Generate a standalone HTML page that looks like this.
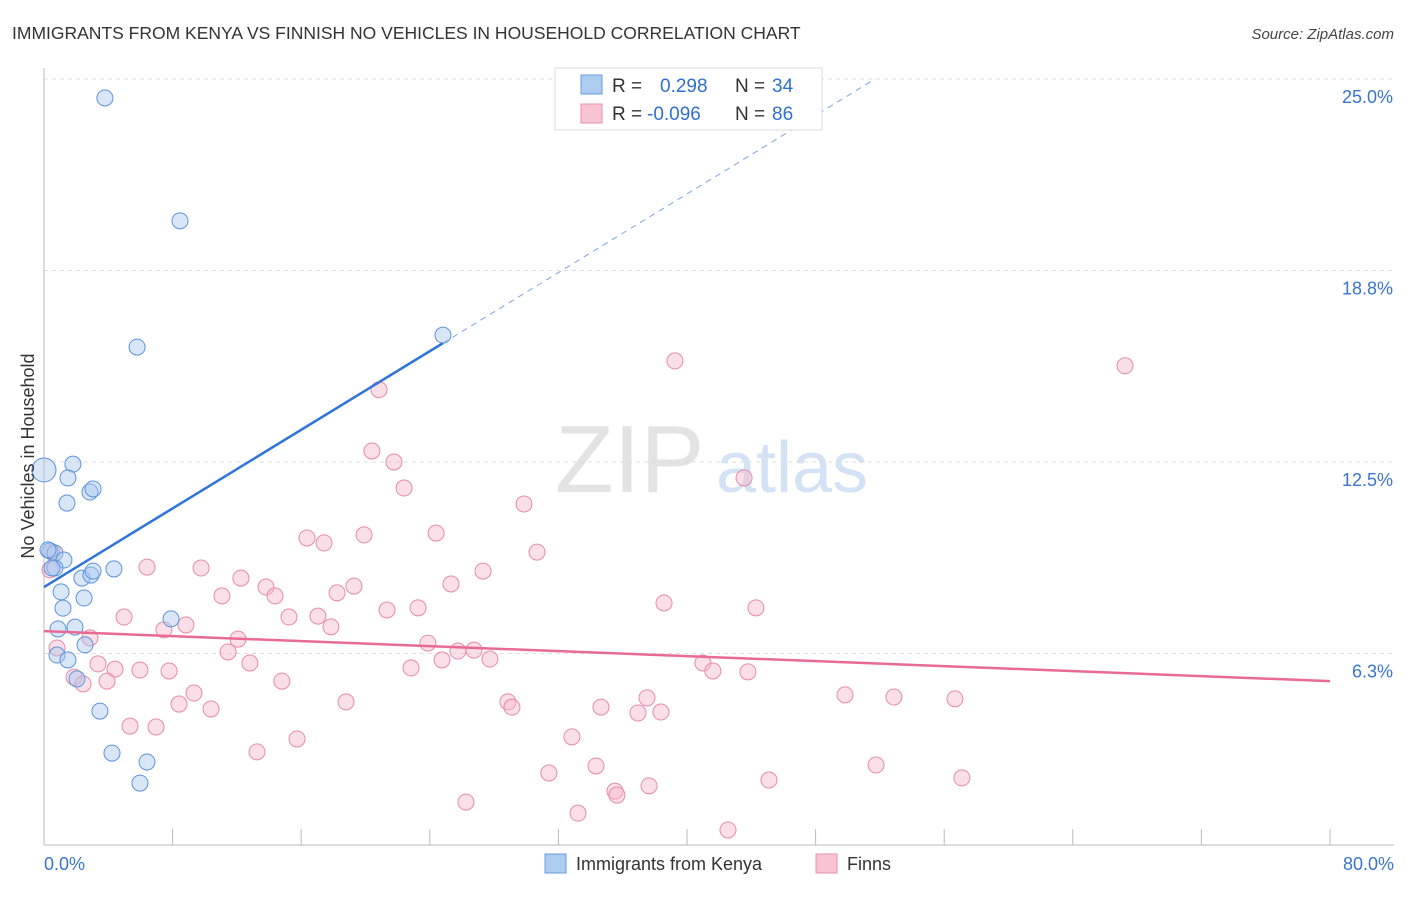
<!DOCTYPE html>
<html><head><meta charset="utf-8"><style>
body{margin:0;background:#fff;font-family:"Liberation Sans",sans-serif;}
svg text{font-family:"Liberation Sans",sans-serif;}
</style></head><body>
<svg id="chart" width="1406" height="892" xmlns="http://www.w3.org/2000/svg">
<text x="12" y="39" font-size="17.5" fill="#333">IMMIGRANTS FROM KENYA VS FINNISH NO VEHICLES IN HOUSEHOLD CORRELATION CHART</text>
<text x="1394" y="39" font-size="15" fill="#444" text-anchor="end" font-style="italic">Source: ZipAtlas.com</text>
<g>
<text x="555" y="492" font-size="96" fill="#ddd" font-family="Liberation Serif" opacity="0.8">ZIP</text>
<text x="716" y="492" font-size="72" fill="#c9dbf2" opacity="0.8">atlas</text>
</g>
<g id="grid"></g>
<g id="axes"></g>
<g id="marks"></g>
<g>
<rect x="555" y="68" width="267" height="62" fill="#fff" stroke="#ddd"/>
<rect x="581" y="75" width="21" height="19" fill="#aecbf0" stroke="#6a9de0"/>
<rect x="581" y="104" width="21" height="19" fill="#f8c4d3" stroke="#ea8fac"/>
<text x="612" y="92" font-size="19" fill="#333">R =</text>
<text x="660" y="92" font-size="19" fill="#2f6fd0">0.298</text>
<text x="735" y="92" font-size="19" fill="#333">N =</text>
<text x="772" y="92" font-size="19" fill="#2f6fd0">34</text>
<text x="612" y="120" font-size="19" fill="#333">R =</text>
<text x="647" y="120" font-size="19" fill="#2f6fd0">-0.096</text>
<text x="735" y="120" font-size="19" fill="#333">N =</text>
<text x="772" y="120" font-size="19" fill="#2f6fd0">86</text>
</g>
<g>
<rect x="545" y="854" width="21" height="19" fill="#aecbf0" stroke="#6a9de0"/>
<text x="576" y="870" font-size="18" fill="#333">Immigrants from Kenya</text>
<rect x="816" y="854" width="21" height="19" fill="#f8c4d3" stroke="#ea8fac"/>
<text x="847" y="870" font-size="18" fill="#333">Finns</text>
</g>
<text transform="translate(34,456) rotate(-90)" font-size="18" fill="#333" text-anchor="middle">No Vehicles in Household</text>
</svg>
<script>
const yTicks=[25,18.75,12.5,6.25];
const yTickLabels=["25.0%","18.8%","12.5%","6.3%"];
const xTickLabels=["0.0%","80.0%"];
const kenyaX=[3.79,8.46,5.79,24.82,1.80,1.49,1.43,2.86,3.05,0,0.37,0.68,1.24,0.68,2.36,2.92,3.05,4.35,2.49,1.06,1.18,0.87,1.93,2.55,7.90,0.81,1.49,2.05,3.48,4.23,6.41,5.97,0.25,0.50];
const kenyaY=[24.38,20.37,16.25,16.64,12.43,11.98,11.16,11.52,11.62,12.24,9.60,9.53,9.30,9.04,8.71,8.81,8.94,9.01,8.06,8.26,7.73,7.05,7.11,6.53,7.38,6.20,6.04,5.42,4.37,3.00,2.71,2.02,9.63,9.04];
const finnsX=[39.25,67.25,20.84,20.40,21.77,22.40,29.86,43.55,16.36,17.42,19.91,24.39,30.67,6.41,9.77,12.25,13.81,14.37,11.07,19.28,18.23,25.32,27.31,4.98,8.83,7.46,15.24,17.04,17.85,21.34,23.27,38.57,44.29,2.86,12.07,11.45,12.81,14.80,9.33,8.40,10.39,7.78,5.97,4.42,3.36,3.92,1.87,2.43,0.81,23.88,25.75,26.75,27.74,24.76,22.83,40.99,41.61,43.79,28.86,29.11,34.65,36.95,37.51,38.38,49.83,52.87,56.67,18.79,15.74,13.25,5.35,6.97,32.84,34.34,31.41,35.52,35.64,37.64,26.25,33.22,42.55,45.10,51.76,57.10,0.37,0.50];
const finnsY=[15.80,15.64,14.86,12.86,12.50,11.65,11.13,11.98,10.02,9.86,10.12,10.18,9.56,9.07,9.04,8.71,8.42,8.13,8.13,8.45,8.23,8.52,8.94,7.44,7.18,7.02,7.44,7.47,7.12,7.67,7.74,7.90,7.74,6.76,6.72,6.30,5.94,5.35,4.96,4.60,4.44,5.68,5.71,5.74,5.91,5.35,5.48,5.26,6.43,6.59,6.33,6.36,6.07,6.04,5.78,5.94,5.68,5.65,4.67,4.50,4.50,4.31,4.80,4.34,4.90,4.83,4.77,4.67,3.46,3.04,3.88,3.85,3.53,2.58,2.35,1.76,1.63,1.93,1.40,1.04,0.49,2.12,2.61,2.19,8.98,9.56];
const kenyaTrend=[0,8.42,0.3207];
const finnsTrend=[0,6.98,-0.0204];

const NS="http://www.w3.org/2000/svg";
const X0=44,X1=1330,Y0=845,YTOP=79;
const sx=v=>X0+(v/80)*(X1-X0);
const sy=v=>Y0-(v/25)*(Y0-YTOP);
function mk(tag,attrs,parent){const e=document.createElementNS(NS,tag);for(const k in attrs)e.setAttribute(k,attrs[k]);parent.appendChild(e);return e;}
const grid=document.getElementById('grid'),axes=document.getElementById('axes'),marks=document.getElementById('marks');
yTicks.forEach((t,i)=>{
 const l=mk('line',{x1:X0,x2:1394,y1:sy(t),y2:sy(t),stroke:'#ddd','stroke-dasharray':'4,4'},grid);
 
 
 const tx=mk('text',{x:1393,y:sy(t)+24,'font-size':18,fill:'#3a74d0','text-anchor':'end'},axes);
 tx.textContent=yTickLabels[i];
 
 
});
const ax=mk('line',{x1:X0,x2:X0,y1:68,y2:Y0,stroke:'#bbb'},axes);


const bx=mk('line',{x1:X0,x2:1394,y1:Y0,y2:Y0,stroke:'#bbb'},axes);


for(let i=0;i<=10;i++){
 const xv=i*8;
 const t=mk('line',{x1:sx(xv),x2:sx(xv),y1:Y0,y2:Y0-16,stroke:'#bbb'},axes);
 
 
}
[[0,'start',44],[80,'end',1394]].forEach((p,i)=>{
 const tx=mk('text',{x:p[2],y:870,'font-size':18,fill:'#3a74d0','text-anchor':p[1]},axes);
 tx.textContent=xTickLabels[i];
 
 
});
function dots(xs,ys,fill,stroke,name){
 xs.forEach((x,i)=>{
  const c=mk('circle',{cx:sx(x),cy:sy(ys[i]),r:(x===0?12:8),fill:fill,'fill-opacity':0.45,stroke:stroke,'stroke-width':1},marks);
  
  
 });
}
dots(finnsX,finnsY,'#f6b8cb','#e88aa8','finns-point');
dots(kenyaX,kenyaY,'#a9c8f0','#5c93dc','kenya-point');
const kx1=24.82,kx2=(25-kenyaTrend[1])/kenyaTrend[2];
const kl=mk('line',{x1:sx(kenyaTrend[0]),y1:sy(kenyaTrend[1]),x2:sx(kx1),y2:sy(kenyaTrend[1]+kenyaTrend[2]*kx1),stroke:'#2f74d8','stroke-width':2.5},marks);


const kd=mk('line',{x1:sx(kx1),y1:sy(kenyaTrend[1]+kenyaTrend[2]*kx1),x2:sx(kx2),y2:sy(25),stroke:'#7aa6e4','stroke-width':1,'stroke-dasharray':'6,5'},marks);


const fl=mk('line',{x1:sx(0),y1:sy(finnsTrend[1]),x2:sx(80),y2:sy(finnsTrend[1]+finnsTrend[2]*80),stroke:'#e86a95','stroke-width':2.5},marks);


</script>
</body></html>
